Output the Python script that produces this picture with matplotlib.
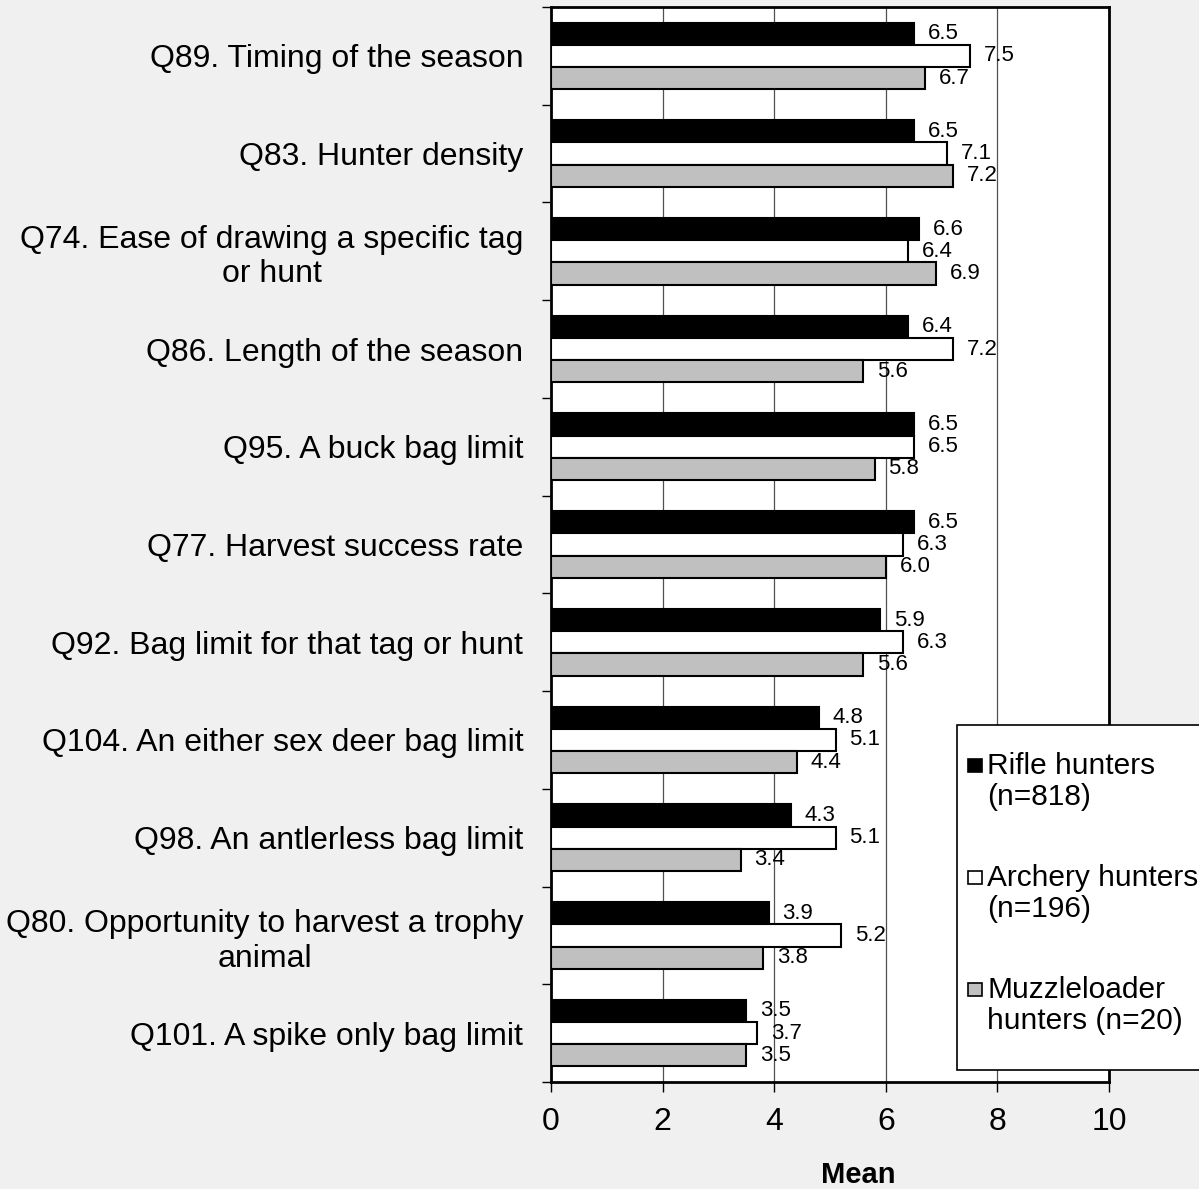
import matplotlib
matplotlib.use("Agg")
import matplotlib.pyplot as plt
import numpy as np
from matplotlib.patches import Rectangle

plt.rcParams["font.family"] = ["Liberation Sans", "DejaVu Sans"]

questions = [
    "Q89. Timing of the season",
    "Q83. Hunter density",
    "Q74. Ease of drawing a specific tag\nor hunt",
    "Q86. Length of the season",
    "Q95. A buck bag limit",
    "Q77. Harvest success rate",
    "Q92. Bag limit for that tag or hunt",
    "Q104. An either sex deer bag limit",
    "Q98. An antlerless bag limit",
    "Q80. Opportunity to harvest a trophy\nanimal",
    "Q101. A spike only bag limit",
]
rifle = [6.5, 6.5, 6.6, 6.4, 6.5, 6.5, 5.9, 4.8, 4.3, 3.9, 3.5]
archery = [7.5, 7.1, 6.4, 7.2, 6.5, 6.3, 6.3, 5.1, 5.1, 5.2, 3.7]
muzzle = [6.7, 7.2, 6.9, 5.6, 5.8, 6.0, 5.6, 4.4, 3.4, 3.8, 3.5]
groups = ["Rifle hunters\n(n=818)", "Archery hunters\n(n=196)",
          "Muzzleloader\nhunters (n=20)"]
colors = ["#000000", "#ffffff", "#c0c0c0"]

W, H = 1199, 1189
BG = "#f0f0f0"

fig = plt.figure(figsize=(W / 100, H / 100), dpi=100, facecolor=BG)
ax = fig.add_axes([551 / W, 1 - 1082 / H, (1109 - 551) / W, (1082 - 7) / H])
ax.set_facecolor("white")

y = np.arange(len(questions)) + 0.5
h = 0.227
for k, (vals, col) in enumerate(zip([rifle, archery, muzzle], colors)):
    bars = ax.barh(y + (k - 1) * h, vals, height=h, color=col,
                   edgecolor="black", lw=1.5, zorder=3)
    ax.bar_label(bars, fmt="%.1f", padding=10, fontsize=16, zorder=4)

ax.set_xlim(0, 10)
ax.set_ylim(len(questions), 0)
ax.set_xticks(range(0, 11, 2))
ax.tick_params(axis="x", direction="out", length=7, width=1, pad=11,
               labelsize=23)
ax.set_yticks(y)
ax.set_yticklabels(questions, fontsize=23, ma="center")
ax.set_yticks(np.arange(len(questions) + 1), minor=True)
ax.tick_params(axis="y", which="major", length=0, pad=20)
ax.tick_params(axis="y", which="minor", direction="out", length=6.5, width=1)
ax.grid(axis="x", color="#505050", lw=0.9, zorder=1)
for s in ax.spines.values():
    s.set_linewidth(2)
ax.set_xlabel("Mean", fontsize=21, fontweight="bold", va="baseline")
ax.xaxis.set_label_coords(0.55, -0.0935)

# legend box, partly running off the right edge
def fpx(px, py):
    return px / W, 1 - py / H

x0, y0 = fpx(957, 1070)
x1, y1 = fpx(1215, 725)
fig.patches.append(Rectangle((x0, y0), x1 - x0, y1 - y0, transform=fig.transFigure,
                             facecolor="white", edgecolor="black", lw=1.2,
                             zorder=5))
for k, (lab, col) in enumerate(zip(groups, colors)):
    top = 766 + k * 112
    sx, sy = fpx(968, top + 6)
    fig.patches.append(Rectangle((sx, sy), 14 / W, 13 / H,
                                 transform=fig.transFigure, facecolor=col,
                                 edgecolor="black", lw=1.2, zorder=6))
    tx, ty = fpx(987, top - 14)
    fig.text(tx, ty, lab, fontsize=21.5, va="top", ha="left",
             linespacing=1.12, zorder=6)

fig.savefig("out.png", dpi=100, facecolor=BG)
